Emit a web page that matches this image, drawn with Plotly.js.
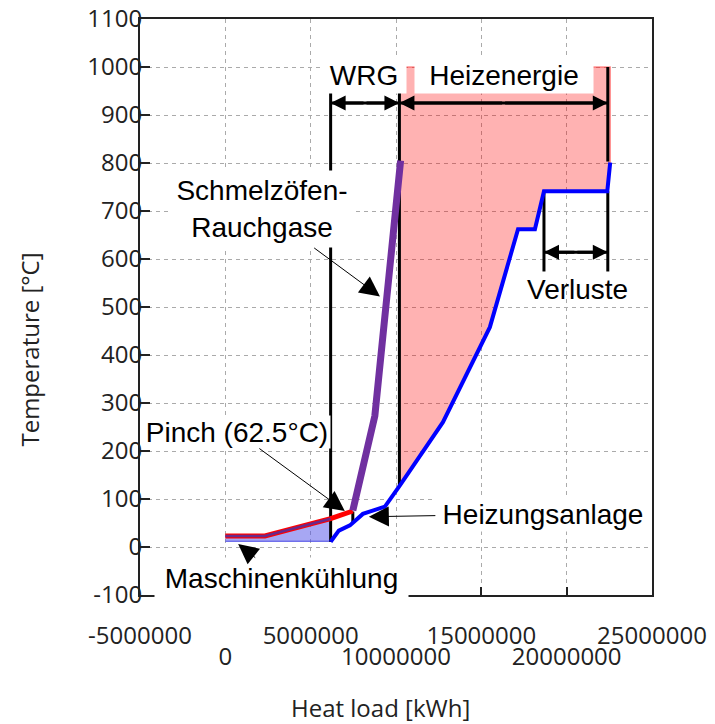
<!DOCTYPE html>
<html><head><meta charset="utf-8">
<script src="https://cdn.plot.ly/plotly-3.0.1.min.js"></script>
<style>html,body{margin:0;padding:0;background:#fff}#chart{width:715px;height:724px}</style>
</head><body><div id="chart"></div>
<script>
// ---------- data ----------
const xTickVals = [-5000000, 0, 5000000, 10000000, 15000000, 20000000, 25000000];
const xTickUpper = ['-5000000', '', '5000000', '', '15000000', '', '25000000'];
const xTickLowerVals = [0, 10000000, 20000000];
const xTickLowerText = ['0', '10000000', '20000000'];
const yTickVals = [-100, 0, 100, 200, 300, 400, 500, 600, 700, 800, 900, 1000, 1100];
const yTickText = ['-100', '0', '100', '200', '300', '400', '500', '600', '700', '800', '900', '1000', '1100'];

// Maschinenkühlung (hot stream, low temperature)
const maschX = [0, 2320000, 6170000];
const maschT = [23, 23, 59];
const maschBaseT = 12;
// short hot segment up to the pinch
const pinchX = [6170000, 7470000];
const pinchT = [59, 75];
// Schmelzöfen-Rauchgase
const rauchX = [7470000, 8760000, 10270000];
const rauchT = [76, 273, 805];
// Heizungsanlage (cold composite)
const heizX = [6170000, 6650000, 7300000, 8060000, 9350000, 10200000, 12750000, 15500000, 17150000, 18140000, 18670000, 22380000, 22550000];
const heizT = [11, 34, 45, 69, 84, 127, 260, 458, 662, 662, 741, 741, 801];
const heizEnergyFrom = 10200000;   // start of Heizenergie region
const heizTopT = 1000;

// dimension markers
const wrgX = [6170000, 10200000];
const heizeX = [10200000, 22410000];
const dimT = 925;
const dimTopT = 950;
const verlX = [18670000, 22410000];
const verlTopT = 741;
const verlBotT = 574;
const verlArrowT = 614;
const pinchTickX = 7470000;
const pinchTickT = [74, 50];

// ---------- traces ----------
const fillIdx = heizX.findIndex(v => v >= heizEnergyFrom);
const redFillX = heizX.slice(fillIdx).concat([heizX[heizX.length - 1], heizEnergyFrom]);
const redFillT = heizT.slice(fillIdx).concat([heizTopT, heizTopT]);

const blueFillX = maschX.concat([maschX[maschX.length - 1], maschX[0]]);
const blueFillT = maschT.concat([maschBaseT, maschBaseT]);

const blackX = [
  wrgX[0], wrgX[0], null,
  wrgX[1], wrgX[1], null,
  heizeX[1], heizeX[1], null,
  verlX[0], verlX[0], null,
  verlX[1], verlX[1], null,
  pinchTickX, pinchTickX, null,
  wrgX[0], wrgX[1], null,
  heizeX[0], heizeX[1], null,
  verlX[0], verlX[1]
];
const blackT = [
  dimTopT, heizT[0], null,
  dimTopT, heizT[fillIdx], null,
  heizTopT, rauchT[rauchT.length - 1] - 2, null,
  verlTopT, verlBotT, null,
  verlTopT, verlBotT, null,
  pinchTickT[0], pinchTickT[1], null,
  dimT, dimT, null,
  dimT, dimT, null,
  verlArrowT, verlArrowT
];

const base = {type: 'scatter', mode: 'lines', hoverinfo: 'skip', showlegend: false, xaxis: 'x', yaxis: 'y'};

const traces = [
  Object.assign({}, base, {x: redFillX, y: redFillT, fill: 'toself', fillcolor: 'rgba(255,0,0,0.3)',
    line: {color: 'rgba(255,60,60,0.55)', width: 1.5}}),
  Object.assign({}, base, {x: blueFillX, y: blueFillT, fill: 'toself', fillcolor: 'rgba(80,80,232,0.5)',
    line: {color: 'rgb(70,70,230)', width: 1}}),
  Object.assign({}, base, {x: blackX, y: blackT, line: {color: '#000', width: 3}, connectgaps: false}),
  Object.assign({}, base, {x: maschX.concat(pinchX.slice(1)), y: maschT.concat(pinchT.slice(1)),
    line: {color: '#ff0000', width: 5}}),
  Object.assign({}, base, {x: maschX, y: maschT, line: {color: '#6a2a8a', width: 2.5}}),
  Object.assign({}, base, {x: rauchX, y: rauchT, line: {color: '#7030a0', width: 7}}),
  Object.assign({}, base, {x: heizX, y: heizT, line: {color: '#0000ff', width: 4}}),
  Object.assign({}, base, {x: [], y: [], xaxis: 'x2'})
];

// ---------- annotations ----------
const txtFont = {family: 'Liberation Sans, Arial, sans-serif', size: 28, color: '#000'};
const titleFont = {family: 'Open Sans, sans-serif', size: 24, color: '#222'};

function head(tipX, tailX, t) {
  return {x: tipX, y: t, ax: tailX, ay: t, xref: 'x', yref: 'y', axref: 'x', ayref: 'y',
    text: '', showarrow: true, arrowhead: 2, arrowsize: 1, arrowwidth: 3, arrowcolor: '#000', standoff: 0};
}
const leader = {showarrow: true, arrowhead: 2, arrowsize: 4, arrowwidth: 1, arrowcolor: '#000',
  font: txtFont, bgcolor: '#fff', borderpad: 0, xref: 'x', yref: 'y'};

const annotations = [
  head(wrgX[0], (wrgX[0] + wrgX[1]) / 2, dimT),
  head(wrgX[1], (wrgX[0] + wrgX[1]) / 2, dimT),
  head(heizeX[0], (heizeX[0] + heizeX[1]) / 2, dimT),
  head(heizeX[1], (heizeX[0] + heizeX[1]) / 2, dimT),
  head(verlX[0], (verlX[0] + verlX[1]) / 2, verlArrowT),
  head(verlX[1], (verlX[0] + verlX[1]) / 2, verlArrowT),
  {x: 8120000, y: 984, xref: 'x', yref: 'y', text: 'WRG', showarrow: false, font: txtFont,
    bgcolor: '#fff', width: 84, height: 36, borderpad: 0},
  {x: 16320000, y: 984, xref: 'x', yref: 'y', text: 'Heizenergie', showarrow: false, font: txtFont,
    bgcolor: '#fff', width: 178, height: 36, borderpad: 0},
  {x: 20660000, y: 537, xref: 'x', yref: 'y', text: 'Verluste', showarrow: false, font: txtFont},
  Object.assign({}, leader, {x: 9060000, y: 522, ax: -118, ay: -87, text: 'Schmelzöfen-<br>Rauchgase',
    width: 184, height: 76}),
  Object.assign({}, leader, {x: 7000000, y: 75, ax: -108, ay: -79, text: 'Pinch (62.5°C)',
    width: 186, height: 32}),
  Object.assign({}, leader, {x: 8410000, y: 63, ax: 174, ay: -3, text: 'Heizungsanlage',
    width: 214, height: 34}),
  Object.assign({}, leader, {x: 750000, y: 6, ax: 43, ay: 34, text: 'Maschinenkühlung',
    width: 253, height: 40}),
  {x: 0.469, y: -0.195, xref: 'paper', yref: 'paper', text: 'Heat load [kWh]', showarrow: false,
    font: titleFont, xanchor: 'center', yanchor: 'middle'},
  {x: -0.215, y: 0.426, xref: 'paper', yref: 'paper', text: 'Temperature [°C]', showarrow: false,
    font: titleFont, textangle: -90, xanchor: 'center', yanchor: 'middle'}
];

const tickFont = {family: 'Open Sans, sans-serif', size: 24, color: '#222'};

const layout = {
  width: 715, height: 724,
  margin: {l: 140, r: 63, t: 19, b: 129},
  paper_bgcolor: '#fff', plot_bgcolor: '#fff',
  showlegend: false,
  xaxis: {
    range: [-5000000, 25000000], tickmode: 'array', tickvals: xTickVals, ticktext: xTickUpper,
    ticks: 'inside', ticklen: 8, tickwidth: 2, tickcolor: '#222',
    showline: true, mirror: true, linecolor: '#222', linewidth: 2,
    showgrid: true, gridcolor: '#aaaaaa', gridwidth: 1, griddash: '4px,4px', zeroline: false,
    tickfont: tickFont, ticklabelstandoff: 18, fixedrange: true
  },
  xaxis2: {
    range: [-5000000, 25000000], overlaying: 'x', anchor: 'y', side: 'bottom',
    tickmode: 'array', tickvals: xTickLowerVals, ticktext: xTickLowerText,
    ticks: '', showline: false, showgrid: false, zeroline: false,
    tickfont: tickFont, ticklabelstandoff: 45, fixedrange: true
  },
  yaxis: {
    range: [-100, 1100], tickmode: 'array', tickvals: yTickVals, ticktext: yTickText,
    ticks: 'inside', ticklen: 10, tickwidth: 2, tickcolor: '#222',
    showline: true, mirror: true, linecolor: '#222', linewidth: 2,
    showgrid: true, gridcolor: '#aaaaaa', gridwidth: 1, griddash: '4px,4px', zeroline: false,
    tickfont: tickFont, ticklabelstandoff: -9, fixedrange: true
  },
  annotations: annotations
};

Plotly.newPlot('chart', traces, layout, {staticPlot: true, displayModeBar: false});
</script></body></html>
